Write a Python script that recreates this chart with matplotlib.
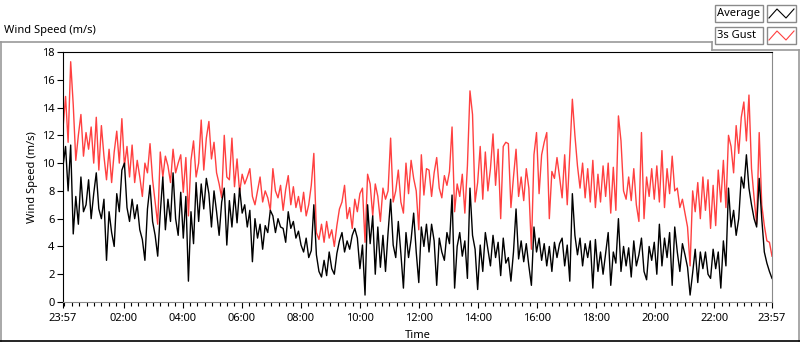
import numpy as np
import matplotlib.pyplot as plt
from matplotlib.lines import Line2D
from matplotlib.patches import Rectangle

plt.rcParams['font.family'] = ['Noto Sans', 'DejaVu Sans']

# wind speed (m/s), roughly every 5 minutes from 23:57 to 23:57
gust = [
    12.5, 14.8, 11.5, 17.3, 14.2, 10.2, 12.0, 13.5, 10.5, 12.2,
    11.0, 12.6, 10.0, 13.3, 9.5, 12.7, 10.5, 8.8, 11.0, 8.6,
    10.8, 12.3, 10.0, 13.2, 9.8, 11.2, 9.0, 11.3, 8.6, 10.2,
    9.0, 7.6, 10.0, 9.3, 11.4, 8.8, 7.2, 5.6, 10.8, 9.0,
    10.5, 9.8, 8.6, 11.0, 9.3, 10.0, 10.6, 7.9, 10.4, 6.2,
    10.2, 11.6, 9.0, 10.0, 13.1, 9.5, 11.8, 13.0, 10.3, 11.5,
    9.3, 8.5, 7.5, 12.0, 9.0, 8.8, 11.8, 8.3, 10.3, 7.9,
    9.2, 8.5, 9.0, 9.6, 7.6, 7.0, 8.0, 9.0, 7.2, 8.0,
    7.5, 6.6, 9.6, 8.0, 7.5, 8.4, 6.6, 8.1, 9.1, 7.0,
    8.3, 6.8, 7.6, 6.5, 7.9, 6.2, 7.0, 8.4, 10.7, 5.0,
    4.5, 5.6, 4.3, 5.8, 4.6, 5.2, 4.0, 5.5, 6.7, 7.2,
    8.4, 6.0, 6.8, 5.3, 7.4, 6.5, 7.8, 8.2, 4.3, 9.2,
    8.5, 6.2, 8.5, 7.6, 5.8, 8.2, 7.4, 8.0, 11.8, 7.2,
    8.0, 9.5, 7.2, 6.4, 10.0, 7.8, 10.2, 8.9, 8.0, 5.2,
    10.6, 7.7, 9.6, 9.5, 7.6, 9.3, 10.4, 8.2, 7.5, 9.1,
    8.4, 9.4, 12.6, 6.5, 8.5, 7.6, 9.2, 6.4, 9.8, 15.2,
    13.5, 7.2, 8.6, 11.2, 7.4, 10.8, 8.0, 9.6, 12.1, 8.4,
    11.0, 6.0, 11.2, 11.5, 11.4, 6.8, 9.0, 11.0, 7.6, 9.0,
    7.3, 9.6, 8.2, 3.8, 10.6, 12.2, 7.8, 10.6, 11.5, 12.2,
    6.0, 9.4, 8.9, 10.4, 9.0, 7.5, 10.6, 7.0, 10.7, 14.6,
    12.0, 9.8, 8.2, 10.0, 7.5, 9.6, 7.2, 10.2, 6.8, 9.2,
    7.2, 9.8, 7.6, 10.0, 6.4, 9.7, 6.6, 13.4, 11.6, 8.0,
    7.4, 9.0, 7.3, 9.6, 7.0, 5.8, 12.2, 6.0, 9.0, 7.6,
    9.6, 7.4, 9.8, 7.2, 10.9, 6.8, 9.6, 7.8, 10.5, 8.0,
    8.2, 6.8, 7.4, 6.4, 5.4, 2.6, 8.0, 6.5, 8.6, 6.0,
    9.0, 6.6, 8.8, 5.3, 8.4, 5.5, 9.5, 7.2, 10.2, 6.8,
    12.0, 11.2, 9.3, 12.7, 10.7, 13.3, 14.4, 11.6, 14.9, 9.6,
    7.5, 5.6, 12.2, 7.0, 5.5, 4.4, 4.3, 3.3,
]

average = [
    9.8, 11.2, 8.0, 11.3, 4.9, 7.6, 5.6, 9.0, 6.5, 7.0,
    8.8, 6.0, 7.8, 9.3, 6.7, 6.0, 7.4, 3.0, 6.5, 5.0,
    4.0, 7.8, 6.5, 9.5, 10.0, 6.8, 5.8, 7.4, 6.0, 7.0,
    5.2, 4.5, 3.0, 6.7, 8.4, 5.8, 4.8, 3.3, 6.4, 9.0,
    5.2, 7.4, 5.8, 9.3, 6.0, 4.8, 7.9, 4.6, 7.6, 1.5,
    6.5, 4.2, 8.6, 5.8, 8.5, 6.7, 8.9, 7.8, 5.4, 8.0,
    6.5, 4.8, 7.2, 8.2, 4.1, 7.3, 5.4, 7.8, 5.7, 8.2,
    6.4, 7.0, 5.4, 6.6, 2.9, 6.0, 4.6, 5.6, 3.8, 5.5,
    5.0, 6.6, 6.2, 5.0, 6.0, 5.4, 5.3, 4.3, 6.5, 5.3,
    5.8, 4.6, 5.1, 4.1, 3.6, 4.6, 3.2, 3.7, 7.0, 3.4,
    2.2, 1.8, 3.0, 1.9, 3.6, 2.4, 2.0, 3.5, 4.4, 5.0,
    3.6, 4.4, 3.8, 4.8, 5.3, 4.6, 2.4, 4.1, 0.5, 7.0,
    4.2, 6.2, 2.0, 5.4, 2.5, 4.8, 2.2, 5.0, 7.4, 4.1,
    3.2, 5.8, 3.5, 1.0, 5.0, 3.2, 4.5, 6.4, 3.6, 1.4,
    5.4, 4.0, 5.6, 3.6, 5.6, 4.4, 1.2, 4.6, 3.6, 3.0,
    5.0, 4.2, 7.7, 1.0, 4.0, 5.0, 3.3, 4.4, 1.7, 8.2,
    4.8, 3.8, 0.9, 4.1, 2.2, 5.0, 3.8, 2.6, 4.8, 3.2,
    4.3, 1.9, 4.6, 2.8, 3.2, 1.5, 3.6, 6.7, 3.1, 4.4,
    2.9, 4.2, 2.6, 1.2, 5.4, 3.6, 4.6, 3.0, 4.2, 2.6,
    4.0, 2.2, 4.3, 3.2, 4.2, 4.6, 2.6, 4.1, 1.5, 7.8,
    4.8, 3.4, 4.6, 2.6, 4.2, 3.2, 4.4, 1.0, 4.5, 2.2,
    3.6, 2.0, 3.5, 5.0, 1.2, 3.6, 2.8, 6.0, 2.2, 4.0,
    2.6, 3.9, 1.8, 4.4, 2.6, 3.4, 4.6, 2.2, 1.6, 4.0,
    3.0, 4.3, 2.0, 5.6, 2.6, 4.6, 3.2, 5.0, 1.2, 5.4,
    3.6, 2.2, 4.2, 3.4, 2.5, 0.5, 2.1, 3.8, 1.4, 3.6,
    2.4, 3.6, 2.0, 1.7, 3.8, 2.4, 3.6, 1.0, 4.4, 2.6,
    8.2, 5.4, 6.6, 4.8, 6.0, 9.0, 8.2, 10.6, 8.2, 7.0,
    6.0, 5.4, 8.9, 6.0, 3.6, 2.8, 2.2, 1.7,
]

# minutes after 23:57 of the previous day
tick_minutes = [0, 123, 243, 363, 483, 603, 723, 843, 963, 1083, 1203, 1323, 1440]
tick_labels = ['23:57', '02:00', '04:00', '06:00', '08:00', '10:00', '12:00',
               '14:00', '16:00', '18:00', '20:00', '22:00', '23:57']

W, H = 800, 342


def fx(x):
    return x / W


def fy(y):
    return 1 - y / H


fig = plt.figure(figsize=(W / 100, H / 100), dpi=100)
ax = fig.add_axes([fx(63), fy(302), (772 - 63) / W, 250 / H])

t = np.linspace(0, 1440, len(gust))
ax.plot(t, gust, color='#ff4040', lw=1.0)
ax.plot(t, average, color='black', lw=1.0)

ax.set_xlim(0, 1440)
ax.set_ylim(0, 18)
ax.set_yticks(range(0, 19, 2))
ax.set_xticks(tick_minutes)
ax.set_xticklabels(tick_labels)
ax.set_xticks(np.arange(3, 1440, 15), minor=True)
ax.tick_params(axis='both', labelsize=8, length=4, width=0.8, pad=2)
ax.tick_params(axis='x', pad=4)
ax.tick_params(axis='x', which='minor', length=3, width=0.8)
ax.set_xlabel('Time', fontsize=8, labelpad=4)
ax.set_ylabel('Wind Speed (m/s)', fontsize=8, labelpad=3)

for side in ['left', 'top']:
    ax.spines[side].set_color('black')
for side in ['bottom', 'right']:
    ax.spines[side].set_color('#8a8a8a')

# panel frame and title
fig.text(fx(4), fy(31), 'Wind Speed (m/s)', fontsize=8, va='center', ha='left')
gray = '#9a9a9a'
for xs, ys, c in [
    ([0, 712], [42, 42], gray),
    ([712, 712], [42, 50], gray),
    ([712, 799], [50, 50], gray),
    ([799, 799], [50, 342], gray),
    ([0.5, 0.5], [42, 342], gray),
    ([0, 800], [341, 341], 'black'),
]:
    fig.add_artist(Line2D([fx(x) for x in xs], [fy(y) for y in ys],
                          color=c, lw=1.2))

# legend boxes
for label, top, color in [('Average', 5, 'black'), ('3s Gust', 27, '#ff4040')]:
    fig.add_artist(Rectangle((fx(715), fy(top + 17)), 48 / W, 17 / H,
                             facecolor='white', edgecolor='#8a8a8a', lw=1))
    fig.text(fx(717), fy(top + 8.5), label, fontsize=8, va='center', ha='left')
    fig.add_artist(Rectangle((fx(767), fy(top + 17)), 29 / W, 17 / H,
                             facecolor='white', edgecolor='#8a8a8a', lw=1))
    fig.add_artist(Line2D([fx(769), fx(777), fx(786), fx(794)],
                          [fy(top + 13), fy(top + 4), fy(top + 13), fy(top + 4)],
                          color=color, lw=0.8))

fig.savefig('out.png', dpi=100)
